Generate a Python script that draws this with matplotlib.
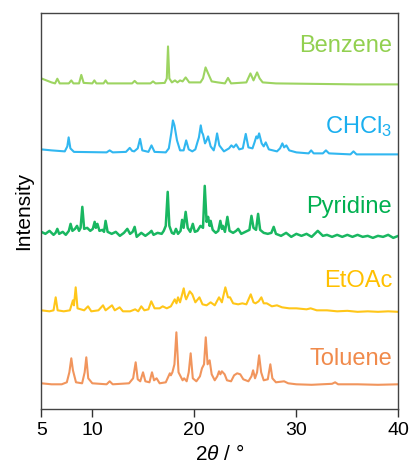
import numpy as np
import matplotlib
matplotlib.use("Agg")
import matplotlib.pyplot as plt

plt.rcParams['font.family'] = ['Liberation Sans', 'DejaVu Sans']
plt.rcParams['mathtext.fontset'] = 'custom'
plt.rcParams['mathtext.rm'] = 'Liberation Sans'
plt.rcParams['mathtext.it'] = 'Liberation Sans:italic'

# PXRD patterns: (2theta, intensity above own baseline)
benzene = [(5.0, 5), (5.5, 3), (6.0, 1), (6.35, 0), (6.57, 4.7), (6.8, 0), (7.7, 0), (7.94, 3),
           (8.15, 0), (8.7, 0), (8.92, 8.5), (9.15, 0.5), (10.0, 0), (10.2, 3), (10.4, 0),
           (11.1, 0), (11.3, 3), (11.5, 0), (13.9, 0), (14.15, 2.5), (14.4, 0), (15.7, 0),
           (15.95, 2), (16.2, 0), (17.1, 0.5), (17.3, 5), (17.42, 37), (17.55, 5), (17.8, 1),
           (18.1, 3), (18.35, 1), (18.6, 3), (18.85, 2), (19.15, 6), (19.5, 1), (20.6, 1),
           (20.85, 5), (21.1, 16), (21.35, 10), (21.7, 2), (22.3, 1), (23.0, 0), (23.3, 5.5),
           (23.6, 0), (25.1, 1), (25.5, 10), (25.8, 3), (26.15, 11), (26.4, 5), (26.7, 1),
           (28.0, 0), (32.0, -0.5), (36.0, -1), (40.0, -1)]

chcl3 = [(5.0, 3), (6.0, 2), (7.3, 1), (7.55, 6), (7.68, 15), (7.85, 4), (8.2, 0.5), (11.4, 0),
         (11.7, 2), (12.0, 0), (13.3, 0.5), (13.67, 4.5), (13.9, 1.5), (14.1, 1), (14.45, 4),
         (14.68, 13.5), (14.9, 2), (15.5, 0.5), (15.8, 7), (16.1, 0.5), (17.2, 0), (17.5, 4),
         (17.75, 20), (17.9, 32), (18.05, 27), (18.3, 12), (18.6, 2), (18.95, 2), (19.2, 12),
         (19.45, 3), (19.8, 1), (20.1, 3), (20.3, 10), (20.45, 15), (20.63, 27), (20.75, 20),
         (20.85, 18), (21.05, 9), (21.2, 12), (21.35, 16), (21.6, 6), (21.9, 2), (22.05, 8),
         (22.23, 19), (22.45, 7), (22.9, 1), (23.4, 4), (23.63, 7), (23.85, 5), (24.1, 8),
         (24.4, 3), (24.75, 4), (25.04, 18.5), (25.3, 5), (25.7, 4), (25.9, 10), (26.08, 16),
         (26.2, 14), (26.35, 19), (26.6, 9), (26.8, 6), (27.0, 10), (27.3, 3), (28.1, 1),
         (28.4, 4), (28.63, 9), (28.8, 5), (29.02, 7), (29.3, 2), (30.0, 0), (31.2, -1),
         (31.45, 2), (31.7, -1), (32.6, -1), (32.9, 2), (33.2, -1), (35.3, -2), (35.6, 1),
         (35.9, -2), (40.0, -2)]

pyridine = [(5.0, 2), (5.4, 0), (5.8, 3), (6.2, -1), (6.4, 1), (6.57, 5), (6.75, 0), (7.1, 2),
            (7.4, -1), (7.7, 3), (7.87, 10), (8.05, 3), (8.3, 5), (8.5, 8), (8.7, 3), (8.85, 6),
            (9.02, 27), (9.2, 5), (9.5, 6), (9.8, 3), (10.05, 5), (10.23, 12), (10.35, 6),
            (10.5, 10), (10.7, 3), (11.0, 4), (11.15, 2), (11.3, 13), (11.5, 2), (11.9, 0),
            (12.3, 2), (12.7, -2), (13.1, 1), (13.43, 5), (13.7, 0), (13.95, 2), (14.15, 7),
            (14.35, -3), (14.8, 1), (15.2, -2), (15.6, 1), (15.8, 3), (16.0, -1), (16.4, 1),
            (16.8, 0), (17.0, 3), (17.2, 8), (17.39, 42), (17.55, 8), (17.8, 1), (18.0, 0),
            (18.2, 5), (18.4, 0), (18.65, 3), (18.8, 14), (18.95, 6), (19.15, 22), (19.35, 6),
            (19.6, 2), (19.85, 10), (20.05, 2), (20.3, 3), (20.6, 8), (20.85, 6), (21.02, 48),
            (21.2, 12), (21.35, 17), (21.5, 8), (21.6, 13), (21.8, 4), (22.1, 1), (22.35, 3),
            (22.55, 13), (22.7, 5), (22.8, 8), (23.0, 2), (23.24, 17), (23.45, 3), (23.8, 1),
            (24.1, 3), (24.3, 5), (24.6, 0), (25.0, 2), (25.4, 4), (25.6, 18), (25.8, 6),
            (26.05, 4), (26.25, 20), (26.45, 4), (26.8, 1), (27.2, 0), (27.55, 1), (27.78, 7),
            (28.0, 0), (28.5, -2), (29.0, 1), (29.5, -3), (30.0, 0), (30.5, -2), (31.0, 0),
            (31.5, -3), (32.1, 3), (32.6, -2), (33.0, -1), (33.5, -3), (34.0, -1), (34.5, -3),
            (35.0, -1), (35.5, -3), (36.0, -1), (36.5, -3), (37.0, -2), (37.5, -4), (38.0, -2),
            (38.5, -3), (39.0, -1), (39.5, -4), (40.0, -2)]

etoac = [(5.0, 1), (5.8, 0), (6.2, 1), (6.41, 14), (6.6, 1), (7.2, 0), (7.8, 1), (8.1, 11),
         (8.2, 6), (8.37, 24), (8.55, 3), (9.2, 1), (9.58, 5), (9.9, 0), (10.6, 1), (11.05, 6),
         (11.3, 1), (11.93, 6), (12.2, 1), (12.68, 4), (13.0, 0), (13.7, 0), (14.2, 2),
         (14.5, 0), (14.8, 5), (15.1, 1), (15.5, 2), (15.78, 10), (16.1, 3), (16.6, 3),
         (16.9, 5), (17.3, 3), (17.7, 5), (18.08, 12), (18.25, 8), (18.4, 14), (18.6, 9),
         (18.96, 23), (19.1, 15), (19.2, 12), (19.55, 20), (19.8, 17), (20.1, 9), (20.5, 14),
         (20.8, 7), (21.2, 6), (21.6, 9), (22.0, 6), (22.42, 14), (22.7, 9), (23.04, 24),
         (23.3, 14), (23.5, 14), (23.8, 8), (24.3, 7), (24.7, 8), (25.1, 7), (25.53, 17),
         (25.8, 9), (26.0, 8), (26.3, 10), (26.57, 14), (26.8, 8), (27.1, 8), (27.6, 5),
         (28.1, 6), (28.6, 4), (29.3, 3), (30.0, 3), (31.0, 2), (31.4, 3), (32.0, 1), (33.0, 1),
         (34.0, 0), (35.0, 0.5), (36.0, -0.5), (37.0, 0), (38.0, -0.5), (39.0, 0), (40.0, -0.5)]

toluene = [(5.0, 1), (6.0, 0), (7.0, 0), (7.5, 2), (7.75, 12), (7.94, 26), (8.1, 14), (8.4, 2),
           (9.0, 1), (9.25, 12), (9.41, 27), (9.6, 6), (10.0, 1), (11.4, 0), (11.7, 3), (12.0, 0),
           (13.6, 1), (14.0, 6), (14.25, 22), (14.45, 5), (14.7, 3), (14.97, 12), (15.2, 3),
           (15.6, 2), (15.85, 12), (16.05, 4), (16.3, 6), (16.6, 1), (17.2, 2), (17.6, 11),
           (17.7, 9), (17.85, 12), (18.05, 20), (18.24, 52), (18.45, 12), (18.7, 7), (18.85, 4),
           (19.0, 6), (19.25, 3), (19.45, 12), (19.64, 31), (19.85, 6), (20.2, 3), (20.55, 8),
           (20.75, 16), (20.95, 20), (21.12, 47), (21.3, 20), (21.5, 24), (21.7, 10), (22.0, 4),
           (22.25, 8), (22.42, 13), (22.55, 10), (22.7, 13), (22.97, 10), (23.2, 4), (23.6, 3),
           (23.9, 9), (24.2, 11), (24.5, 10), (24.8, 5), (25.3, 3), (25.6, 8), (25.76, 14),
           (25.95, 6), (26.15, 12), (26.35, 29), (26.55, 12), (26.8, 4), (27.2, 5), (27.45, 20),
           (27.65, 6), (28.0, 2), (28.8, 3), (29.2, 1), (30.0, 0), (31.5, -0.5), (33.5, 0.5),
           (33.8, 2), (34.1, 0), (36.0, 0), (38.0, -0.5), (40.0, 0)]

names = ['Benzene', 'CHCl$_3$', 'Pyridine', 'EtOAc', 'Toluene']
patterns = [benzene, chcl3, pyridine, etoac, toluene]
offsets = [326, 257, 175.5, 98, 25]
label_y = [357, 276, 196, 122, 44]
colors = ['#92D050', '#1AAFEF', '#00B050', '#FFC000', '#F08A4B']
widths = [1.5, 1.5, 1.8, 1.5, 1.5]

fig = plt.figure(figsize=(4.09, 4.63), dpi=100)
ax = fig.add_axes([0.101, 0.116, 0.873, 0.855])

for pat, off, ly, col, name, lw in zip(patterns, offsets, label_y, colors, names, widths):
    xy = np.array(pat, dtype=float)
    ax.plot(xy[:, 0], xy[:, 1] + off, color=col, lw=lw, alpha=0.9)
    ax.text(39.4, ly, name, color=col, fontsize=17, ha='right', va='baseline')

ax.set_xlim(5, 40)
ax.set_ylim(0, 396)
ax.set_xticks([5, 10, 20, 30, 40])
ax.set_yticks([])
ax.tick_params(axis='x', direction='out', length=6, width=1, labelsize=14,
               colors='#333333', labelcolor='black', pad=3)
for s in ax.spines.values():
    s.set_color('#444444')
    s.set_linewidth(1)

ax.set_xlabel(r'2$\it{\theta}$ / $\degree$', fontsize=15, labelpad=4)
ax.set_ylabel('Intensity', fontsize=15, labelpad=6)

fig.savefig('out.png', dpi=100)
